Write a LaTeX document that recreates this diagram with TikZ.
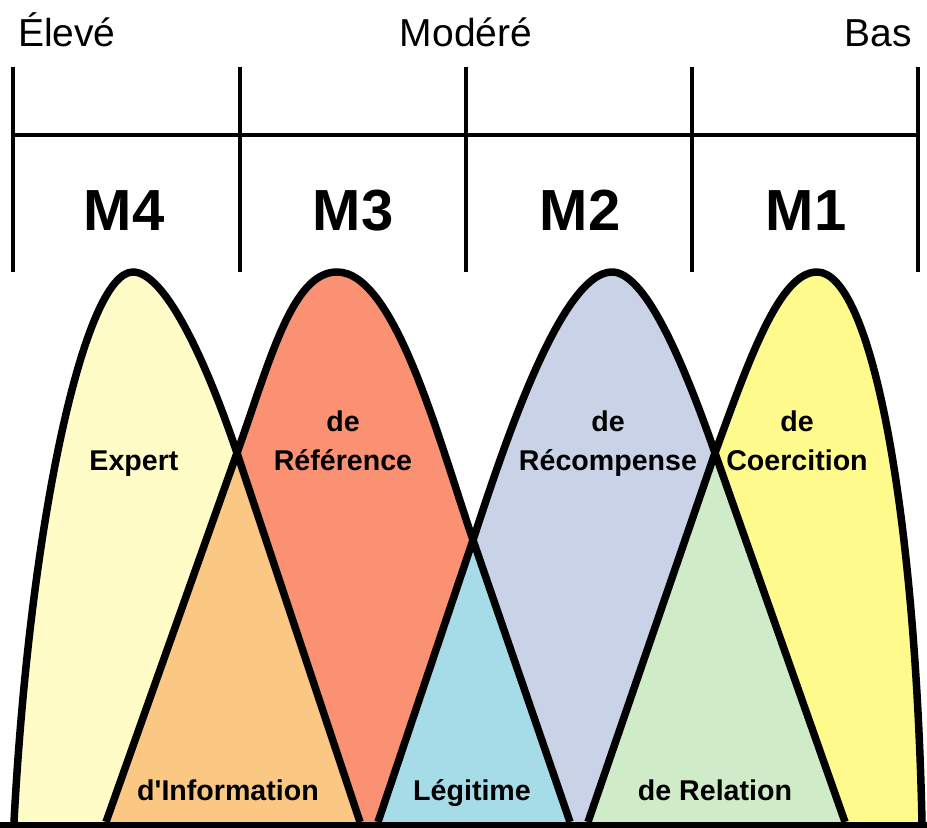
\documentclass[tikz,border=0pt]{standalone}
\usepackage{fontspec}
\setmainfont{Liberation Sans}
\usepackage{tikz}

\definecolor{expertfill}{RGB}{255,252,200}
\definecolor{infofill}{RGB}{250,200,130}
\definecolor{reffill}{RGB}{250,145,115}
\definecolor{legitfill}{RGB}{165,220,232}
\definecolor{recompfill}{RGB}{201,210,230}
\definecolor{relfill}{RGB}{208,235,200}
\definecolor{coerfill}{RGB}{255,250,140}

\begin{document}
\begin{tikzpicture}[x=0.5pt, y=-0.5pt,
    gridline/.style={line width=2.25pt},
    outline/.style={line width=3.75pt, line join=round},
    level/.style={font=\fontsize{19.5}{22}\selectfont, anchor=base},
    maturity/.style={font=\fontsize{29}{32}\selectfont\bfseries, anchor=base},
    power/.style={font=\fontsize{14.3}{19.5}\selectfont\bfseries, align=center, anchor=base}]
    \useasboundingbox (0,0) rectangle (927,828);

    % crossings, peaks and feet of the bells
    \coordinate (x1) at (237,453);
    \coordinate (x2) at (473,540);
    \coordinate (x3) at (715,453);
    \coordinate (p4) at (133,272);
    \coordinate (p3) at (337,272);
    \coordinate (p2) at (612,272);
    \coordinate (p1) at (817,272);
    \coordinate (f0) at (14,822);
    \coordinate (f1) at (106,822);
    \coordinate (f2) at (360,822);
    \coordinate (f3) at (378,822);
    \coordinate (f4) at (570,822);
    \coordinate (f5) at (588,822);
    \coordinate (f6) at (845,822);
    \coordinate (f7) at (922,822);

    % the scale on top
    \foreach \x in {13,240,466,692,918}
        \draw[gridline] (\x,67) -- (\x,272);
    \draw[gridline] (13,135) -- (918,135);
    \node[level, anchor=base west] (high) at (11,47) {Élevé};
    \node[level] (mid) at (466,47) {Modéré};
    \node[level, anchor=base east] (low) at (919,47) {Bas};
    \node[maturity] (m4) at (124,231) {M4};
    \node[maturity] (m3) at (353,231) {M3};
    \node[maturity] (m2) at (580,231) {M2};
    \node[maturity] (m1) at (806,231) {M1};

    % bells
    \fill[expertfill] (f0) .. controls (30,520) and (85,272) .. (p4) .. controls (165,272) and (206,361) .. (x1) -- (f2) -- cycle;
    \fill[reffill] (f1) -- (x1) .. controls (270,361) and (292,272) .. (p3) .. controls (395,272) and (439,441) .. (x2) -- (f4) -- cycle;
    \fill[recompfill] (f3) -- (x2) .. controls (501,455) and (560,272) .. (p2) .. controls (645,272) and (683,361) .. (x3) -- (f6) -- cycle;
    \fill[coerfill] (f5) -- (x3) .. controls (750,357) and (780,272) .. (p1) .. controls (870,272) and (915,500) .. (f7) -- cycle;
    % overlaps
    \fill[infofill] (x1) -- (f2) -- (f1) -- cycle;
    \fill[legitfill] (x2) -- (f4) -- (f3) -- cycle;
    \fill[relfill] (x3) -- (f6) -- (f5) -- cycle;

    \draw[outline] (f0) .. controls (30,520) and (85,272) .. (p4) .. controls (165,272) and (206,361) .. (x1) -- (f2);
    \draw[outline] (f1) -- (x1) .. controls (270,361) and (292,272) .. (p3) .. controls (395,272) and (439,441) .. (x2) -- (f4);
    \draw[outline] (f3) -- (x2) .. controls (501,455) and (560,272) .. (p2) .. controls (645,272) and (683,361) .. (x3) -- (f6);
    \draw[outline] (f5) -- (x3) .. controls (750,357) and (780,272) .. (p1) .. controls (870,272) and (915,500) .. (f7);
    \draw[line width=3.5pt] (0,825) -- (927,825);

    \node[power] (expert) at (134,471) {Expert};
    \node[power] (reference) at (343,471) {de\\Référence};
    \node[power] (recompense) at (608,471) {de\\Récompense};
    \node[power] (coercition) at (797,471) {de\\Coercition};
    \node[power] (information) at (228,800) {d\textquotesingle Information};
    \node[power] (legitime) at (472,800) {Légitime};
    \node[power] (relation) at (715,800) {de Relation};
\end{tikzpicture}
\end{document}
